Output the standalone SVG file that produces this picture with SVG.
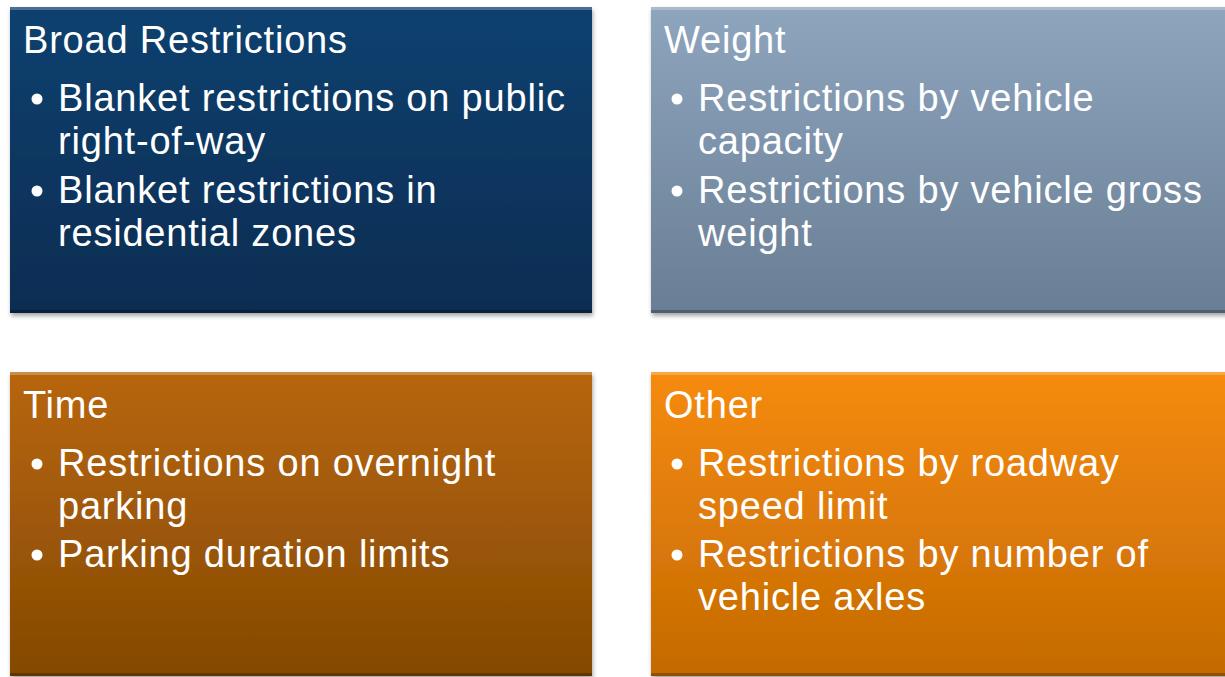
<svg xmlns="http://www.w3.org/2000/svg" width="1225" height="677" viewBox="0 0 1225 677">
<defs>
<linearGradient id="gBlue" x1="0" y1="0" x2="0" y2="1"><stop offset="0" stop-color="#11416f"/><stop offset="1" stop-color="#0a2c52"/></linearGradient>
<linearGradient id="gGrey" x1="0" y1="0" x2="0" y2="1"><stop offset="0" stop-color="#8ea5be"/><stop offset="1" stop-color="#697e94"/></linearGradient>
<linearGradient id="gBrown" x1="0" y1="0" x2="0" y2="1"><stop offset="0" stop-color="#b8660b"/><stop offset="1" stop-color="#844904"/></linearGradient>
<linearGradient id="gOrange" x1="0" y1="0" x2="0" y2="1"><stop offset="0" stop-color="#f68b0f"/><stop offset="1" stop-color="#c46a02"/></linearGradient>
<filter id="sh" x="-5%" y="-5%" width="110%" height="115%"><feDropShadow dx="1" dy="3" stdDeviation="2" flood-color="#000" flood-opacity="0.35"/></filter>
</defs>
<style>
.box{filter:url(#sh);}
.hl{fill:#ffffff;opacity:0.25;}
.dk{fill:#000000;opacity:0.25;}
text{font-family:"Liberation Sans",Arial,sans-serif;font-size:38px;fill:#ffffff;letter-spacing:0.8px;}
.dot{fill:#ffffff;}
</style>
<rect width="1225" height="677" fill="#ffffff"/>
<g id="connectors"/>
<g id="node-broad">
<rect class="box" x="10" y="7" width="582" height="306" fill="url(#gBlue)"/>
<rect class="hl" x="10" y="7" width="582" height="3"/>
<rect class="dk" x="10" y="310" width="582" height="3"/>
<text x="23" y="53">Broad Restrictions</text>
<circle class="dot" cx="37" cy="99" r="5.5"/>
<text x="58" y="111">Blanket restrictions on public</text>
<text x="58" y="154">right-of-way</text>
<circle class="dot" cx="37" cy="191" r="5.5"/>
<text x="58" y="203">Blanket restrictions in</text>
<text x="58" y="246">residential zones</text>
</g>
<g id="node-weight">
<rect class="box" x="651" y="7" width="590" height="306" fill="url(#gGrey)"/>
<rect class="hl" x="651" y="7" width="590" height="3"/>
<rect class="dk" x="651" y="310" width="590" height="3"/>
<text x="664" y="53">Weight</text>
<circle class="dot" cx="677" cy="99" r="5.5"/>
<text x="698" y="111">Restrictions by vehicle</text>
<text x="698" y="154">capacity</text>
<circle class="dot" cx="677" cy="191" r="5.5"/>
<text x="698" y="203">Restrictions by vehicle gross</text>
<text x="698" y="246">weight</text>
</g>
<g id="node-time">
<rect class="box" x="10" y="372" width="582" height="304" fill="url(#gBrown)"/>
<rect class="hl" x="10" y="372" width="582" height="3"/>
<rect class="dk" x="10" y="673" width="582" height="3"/>
<text x="23" y="418">Time</text>
<circle class="dot" cx="37" cy="464" r="5.5"/>
<text x="58" y="476">Restrictions on overnight</text>
<text x="58" y="519">parking</text>
<circle class="dot" cx="37" cy="555" r="5.5"/>
<text x="58" y="567">Parking duration limits</text>
</g>
<g id="node-other">
<rect class="box" x="651" y="372" width="590" height="304" fill="url(#gOrange)"/>
<rect class="hl" x="651" y="372" width="590" height="3"/>
<rect class="dk" x="651" y="673" width="590" height="3"/>
<text x="664" y="418">Other</text>
<circle class="dot" cx="677" cy="464" r="5.5"/>
<text x="698" y="476">Restrictions by roadway</text>
<text x="698" y="519">speed limit</text>
<circle class="dot" cx="677" cy="555" r="5.5"/>
<text x="698" y="567">Restrictions by number of</text>
<text x="698" y="610">vehicle axles</text>
</g>
</svg>
